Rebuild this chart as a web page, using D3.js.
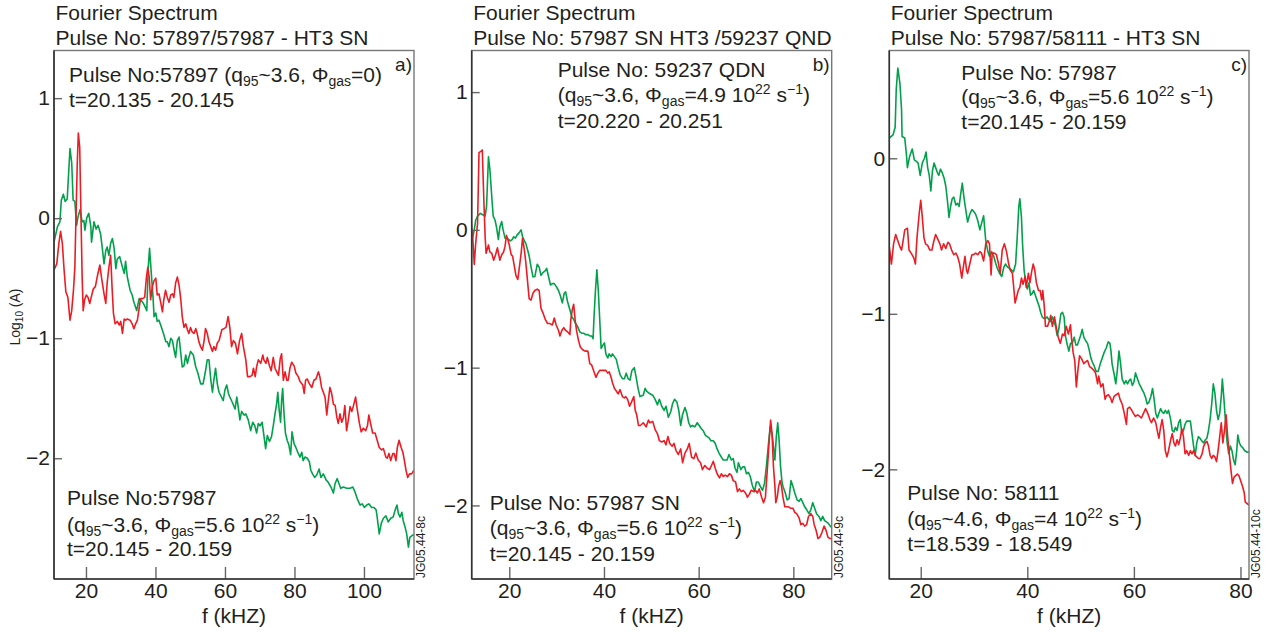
<!DOCTYPE html>
<html>
<head>
<meta charset="utf-8">
<script src="https://cdn.jsdelivr.net/npm/d3@7"></script>
<style>
body { margin: 0; background: #fff; }
svg text { font-family: "Liberation Sans", Arial, Helvetica, sans-serif; fill: #231f20; }
.box { fill: none; stroke: #777; stroke-width: 1.4; }
.axisLine { stroke: #333; stroke-width: 1.6; }
.tick line { stroke: #666; stroke-width: 1.4; }
.spec { fill: none; stroke-width: 1.6; stroke-linejoin: round; }
</style>
</head>
<body>
<script>
(function(){

    //spectra: [f (kHz), log10(A)]
    var greenA = [[10.8,-0.20],[11.8,-0.07],[12.5,-0.03],[12.9,0.15],[13.5,0.20],[14.0,0.14],[14.6,0.16],[15.4,0.58],[15.9,0.46],[16.3,0.15],[16.8,0.14],[17.3,-0.06],[17.7,0.01],[18.3,0.07],[18.9,-0.03],[19.4,-0.02],[19.7,-0.10],[20.2,0.0],[20.8,0.04],[21.4,-0.07],[21.6,-0.20],[22.3,-0.03],[22.9,-0.09],[23.5,-0.06],[24.2,-0.13],[24.7,-0.25],[25.2,-0.38],[25.7,-0.27],[26.1,-0.24],[26.6,-0.31],[27.1,-0.21],[27.6,-0.17],[28.1,-0.25],[28.6,-0.42],[29.0,-0.34],[29.7,-0.32],[30.5,-0.41],[31.0,-0.46],[31.4,-0.36],[31.9,-0.49],[32.7,-0.60],[33.3,-0.64],[33.8,-0.70],[34.6,-0.77],[35.3,-0.67],[35.7,-0.68],[36.3,-0.70],[36.9,-0.73],[37.5,-0.77],[37.9,-0.42],[38.3,-0.25],[38.8,-0.46],[39.3,-0.66],[39.6,-0.82],[40.1,-0.79],[40.5,-0.86],[41.0,-0.85],[41.5,-0.89],[42.3,-0.96],[43.0,-1.03],[43.4,-1.03],[43.9,-1.07],[44.4,-1.00],[44.9,-1.02],[45.3,-1.09],[45.8,-1.16],[46.3,-1.02],[46.8,-0.99],[47.3,-1.13],[47.7,-1.24],[48.2,-1.23],[48.7,-1.14],[49.2,-1.21],[49.6,-1.16],[50.1,-1.11],[50.9,-1.14],[51.6,-1.24],[52.2,-1.29],[53.0,-1.38],[53.7,-1.38],[54.3,-1.29],[54.9,-1.18],[55.4,-1.18],[55.9,-1.34],[56.4,-1.45],[56.8,-1.35],[57.3,-1.25],[57.8,-1.38],[58.3,-1.45],[59.5,-1.52],[60.0,-1.43],[60.5,-1.39],[61.0,-1.46],[61.4,-1.49],[62.2,-1.54],[62.9,-1.59],[63.4,-1.49],[63.8,-1.57],[64.3,-1.68],[64.8,-1.61],[65.5,-1.64],[66.0,-1.63],[66.7,-1.68],[67.4,-1.77],[68.0,-1.70],[68.6,-1.73],[69.1,-1.79],[69.6,-1.71],[70.1,-1.73],[70.7,-1.70],[71.2,-1.81],[71.7,-1.92],[72.2,-1.81],[72.8,-1.86],[73.4,-1.82],[73.9,-1.73],[74.4,-1.63],[74.9,-1.54],[75.2,-1.45],[75.6,-1.60],[76.0,-1.70],[76.3,-1.52],[76.6,-1.42],[77.0,-1.63],[77.4,-1.79],[77.9,-1.85],[78.4,-1.89],[78.9,-1.97],[79.3,-1.78],[79.9,-1.88],[80.4,-1.91],[81.1,-1.96],[81.6,-1.99],[82.1,-1.95],[82.5,-2.02],[83.0,-1.99],[83.7,-2.00],[84.3,-2.03],[84.7,-2.10],[85.2,-2.13],[85.8,-2.16],[86.4,-2.14],[87.1,-2.09],[87.6,-2.16],[88.3,-2.13],[89.1,-2.18],[89.7,-2.20],[90.5,-2.24],[91.2,-2.29],[91.7,-2.21],[92.3,-2.17],[92.8,-2.21],[93.3,-2.25],[94.1,-2.24],[95.0,-2.25],[96.0,-2.25],[96.8,-2.24],[97.4,-2.28],[98.1,-2.34],[98.9,-2.39],[99.5,-2.38],[100.1,-2.41],[100.8,-2.39],[101.4,-2.38],[102.2,-2.41],[102.9,-2.41],[103.5,-2.43],[103.8,-2.49],[104.4,-2.63],[105.0,-2.54],[105.6,-2.50],[106.3,-2.48],[107.0,-2.53],[107.7,-2.50],[108.4,-2.49],[109.0,-2.43],[109.5,-2.39],[109.9,-2.46],[110.4,-2.49],[110.9,-2.45],[111.3,-2.52],[111.8,-2.57],[112.3,-2.63],[112.8,-2.74],[113.2,-2.66],[114.0,-2.64],[114.4,-2.64]];

    var redA = [[10.8,-0.43],[11.6,-0.38],[12.2,-0.21],[12.7,-0.11],[13.2,-0.21],[13.7,-0.43],[14.2,-0.61],[14.8,-0.66],[15.4,-0.85],[15.9,-0.77],[16.4,-0.60],[16.8,-0.41],[17.1,-0.02],[17.5,0.46],[17.8,0.71],[18.2,0.59],[18.5,0.12],[18.9,-0.49],[19.2,-0.77],[19.6,-0.68],[20.1,-0.64],[20.6,-0.66],[21.1,-0.71],[21.5,-0.66],[22.1,-0.59],[22.7,-0.57],[23.3,-0.48],[24.0,-0.39],[24.5,-0.50],[25.2,-0.63],[25.7,-0.71],[26.1,-0.54],[26.6,-0.41],[27.1,-0.31],[27.5,-0.57],[27.9,-0.79],[28.4,-0.88],[29.0,-0.86],[29.6,-0.89],[30.0,-0.86],[30.5,-0.96],[31.0,-0.84],[31.4,-0.85],[31.9,-0.84],[32.7,-0.85],[33.3,-0.88],[33.8,-0.92],[34.3,-0.88],[34.8,-0.85],[35.3,-0.75],[35.7,-0.67],[36.3,-0.67],[36.9,-0.66],[37.4,-0.49],[37.8,-0.41],[38.2,-0.49],[38.6,-0.68],[39.1,-0.57],[39.6,-0.52],[40.1,-0.50],[40.5,-0.64],[41.0,-0.63],[41.5,-0.70],[42.0,-0.78],[42.4,-0.68],[42.9,-0.60],[43.4,-0.66],[43.9,-0.70],[44.4,-0.64],[44.9,-0.63],[45.3,-0.66],[45.8,-0.54],[46.3,-0.49],[46.8,-0.56],[47.3,-0.68],[47.7,-0.82],[48.2,-0.91],[48.7,-0.88],[49.2,-0.93],[49.6,-0.96],[50.1,-0.91],[50.6,-0.95],[51.1,-0.96],[51.6,-0.92],[52.0,-0.96],[52.5,-1.03],[53.0,-1.07],[53.5,-1.10],[54.0,-1.02],[54.4,-0.92],[54.9,-0.96],[55.4,-1.03],[55.9,-1.07],[56.4,-1.11],[56.8,-1.07],[57.3,-1.10],[57.8,-1.04],[58.3,-1.02],[59.1,-0.93],[59.7,-0.92],[60.3,-0.91],[60.9,-0.82],[61.4,-0.91],[61.9,-1.07],[62.4,-1.02],[63.0,-1.04],[63.6,-1.13],[64.2,-1.02],[64.8,-0.96],[65.3,-1.07],[66.0,-1.18],[66.5,-1.32],[67.2,-1.32],[67.8,-1.31],[68.2,-1.25],[68.7,-1.32],[69.1,-1.24],[69.6,-1.18],[70.3,-1.21],[70.9,-1.14],[71.2,-1.18],[71.8,-1.21],[72.2,-1.16],[72.8,-1.23],[73.3,-1.27],[73.9,-1.16],[74.4,-1.25],[74.9,-1.28],[75.4,-1.31],[75.9,-1.17],[76.3,-1.13],[76.8,-1.35],[77.3,-1.28],[77.8,-1.35],[78.2,-1.35],[78.7,-1.25],[79.2,-1.20],[79.9,-1.23],[80.4,-1.29],[81.1,-1.32],[81.6,-1.36],[82.4,-1.39],[82.8,-1.46],[83.2,-1.35],[83.7,-1.34],[84.3,-1.38],[85.0,-1.41],[85.6,-1.35],[86.2,-1.34],[86.9,-1.28],[87.3,-1.32],[87.8,-1.41],[88.3,-1.45],[88.8,-1.49],[89.3,-1.64],[89.7,-1.53],[90.2,-1.41],[90.7,-1.46],[91.2,-1.55],[91.7,-1.56],[92.2,-1.66],[92.6,-1.71],[93.1,-1.63],[93.6,-1.70],[94.1,-1.66],[94.5,-1.56],[95.0,-1.77],[95.5,-1.68],[96.0,-1.57],[96.5,-1.61],[96.9,-1.57],[97.6,-1.49],[98.1,-1.60],[98.7,-1.71],[99.2,-1.78],[99.8,-1.75],[100.5,-1.77],[101.0,-1.73],[101.4,-1.64],[101.9,-1.71],[102.5,-1.79],[103.2,-1.79],[103.8,-1.85],[104.4,-1.91],[105.1,-1.93],[105.6,-1.92],[106.3,-1.99],[106.7,-2.00],[107.2,-1.96],[107.7,-2.02],[108.3,-1.96],[108.7,-1.96],[109.2,-2.02],[109.6,-1.91],[110.1,-1.85],[110.7,-1.91],[111.2,-1.95],[111.7,-2.03],[112.1,-2.10],[112.6,-2.16],[113.1,-2.13],[113.7,-2.13],[114.4,-2.10]];

    var greenB = [[12.0,-0.10],[12.3,-0.05],[12.6,0.0],[12.9,0.07],[13.3,0.10],[13.9,0.12],[14.4,0.11],[14.9,0.10],[15.2,0.17],[15.6,0.53],[15.9,0.44],[16.3,0.24],[16.6,0.10],[17.0,0.07],[17.3,0.02],[17.7,-0.07],[18.0,0.02],[18.4,0.06],[18.7,0.0],[19.1,-0.06],[19.5,-0.06],[19.9,-0.07],[20.2,-0.08],[20.6,-0.07],[20.9,-0.05],[21.3,-0.06],[21.6,-0.04],[22.1,-0.02],[22.5,0.0],[22.8,-0.05],[23.2,-0.08],[23.5,-0.10],[23.9,-0.15],[24.2,-0.19],[24.6,-0.27],[25.0,-0.34],[25.4,-0.34],[25.9,-0.25],[26.3,-0.27],[26.7,-0.33],[27.1,-0.31],[27.5,-0.30],[27.9,-0.28],[28.3,-0.34],[28.7,-0.40],[29.1,-0.39],[29.5,-0.39],[29.9,-0.41],[30.4,-0.44],[30.8,-0.48],[31.2,-0.53],[31.6,-0.46],[31.9,-0.45],[32.3,-0.52],[32.8,-0.58],[33.2,-0.63],[33.6,-0.65],[34.0,-0.68],[34.4,-0.70],[34.9,-0.74],[35.3,-0.75],[35.7,-0.75],[36.1,-0.76],[36.6,-0.76],[37.0,-0.77],[37.4,-0.77],[37.7,-0.79],[37.9,-0.63],[38.2,-0.44],[38.5,-0.29],[38.8,-0.44],[39.1,-0.65],[39.4,-0.86],[39.7,-0.84],[40.1,-0.82],[40.4,-0.90],[40.8,-0.93],[41.1,-0.90],[41.5,-0.92],[41.8,-0.90],[42.2,-0.92],[42.6,-0.94],[43.0,-1.00],[43.4,-1.05],[43.9,-1.08],[44.3,-1.08],[44.7,-1.04],[45.1,-1.08],[45.5,-1.09],[45.9,-1.02],[46.4,-1.00],[46.8,-1.07],[47.2,-1.15],[47.6,-1.21],[48.3,-1.20],[48.7,-1.15],[49.0,-1.17],[49.7,-1.19],[50.3,-1.20],[50.8,-1.23],[51.3,-1.27],[51.7,-1.23],[52.2,-1.28],[52.7,-1.31],[53.1,-1.28],[53.6,-1.36],[54.1,-1.32],[54.5,-1.26],[54.9,-1.23],[55.4,-1.25],[55.8,-1.31],[56.2,-1.42],[56.6,-1.34],[57.1,-1.29],[57.5,-1.33],[57.9,-1.40],[58.3,-1.43],[58.7,-1.42],[59.2,-1.43],[59.7,-1.40],[60.1,-1.42],[60.5,-1.44],[61.0,-1.46],[61.4,-1.49],[61.8,-1.50],[62.2,-1.51],[62.6,-1.53],[63.1,-1.53],[63.5,-1.55],[63.9,-1.59],[64.3,-1.62],[64.8,-1.65],[65.2,-1.67],[65.6,-1.67],[66.0,-1.67],[66.4,-1.63],[66.9,-1.67],[67.3,-1.66],[67.7,-1.73],[68.1,-1.76],[68.4,-1.69],[68.9,-1.74],[69.3,-1.72],[69.7,-1.72],[70.1,-1.77],[70.5,-1.76],[70.9,-1.79],[71.3,-1.85],[71.8,-1.90],[72.2,-1.83],[72.6,-1.83],[73.0,-1.86],[73.5,-1.89],[73.9,-1.84],[74.3,-1.72],[74.7,-1.57],[75.1,-1.43],[75.5,-1.48],[75.9,-1.60],[76.1,-1.67],[76.4,-1.50],[76.7,-1.40],[77.0,-1.53],[77.3,-1.72],[77.6,-1.83],[77.8,-1.86],[78.3,-1.91],[78.7,-1.96],[79.1,-1.95],[79.5,-1.82],[79.9,-1.86],[80.3,-1.91],[80.8,-1.96],[81.2,-1.97],[81.6,-1.95],[82.0,-1.98],[82.4,-2.01],[82.8,-2.03],[83.3,-2.06],[83.7,-2.03],[84.1,-1.98],[84.5,-2.02],[84.9,-2.06],[85.4,-2.08],[85.8,-2.11],[86.2,-2.08],[86.6,-2.11],[87.0,-2.12],[87.4,-2.13],[87.8,-2.15],[88.1,-2.16]];

    var redB = [[12.0,0.04],[12.3,-0.07],[12.6,-0.25],[12.9,-0.10],[13.3,0.05],[13.6,0.56],[14.0,0.57],[14.3,0.58],[14.6,0.24],[14.9,-0.05],[15.1,-0.17],[15.6,-0.11],[15.9,-0.16],[16.3,-0.17],[16.7,-0.22],[17.1,-0.18],[17.5,-0.13],[18.0,-0.22],[18.4,-0.18],[18.8,-0.16],[19.1,-0.12],[19.4,-0.04],[19.7,-0.07],[20.0,-0.11],[20.4,-0.18],[20.7,-0.19],[21.1,-0.27],[21.4,-0.33],[21.8,-0.36],[22.1,-0.28],[22.5,-0.17],[22.8,-0.06],[23.2,-0.15],[23.5,-0.24],[23.9,-0.39],[24.2,-0.50],[24.6,-0.51],[25.0,-0.46],[25.4,-0.44],[25.9,-0.43],[26.3,-0.44],[26.7,-0.57],[27.2,-0.61],[27.6,-0.65],[28.1,-0.68],[28.6,-0.68],[29.1,-0.69],[29.5,-0.64],[29.9,-0.69],[30.4,-0.73],[30.7,-0.77],[31.1,-0.73],[31.5,-0.71],[31.9,-0.73],[32.3,-0.74],[32.8,-0.76],[33.0,-0.65],[33.3,-0.58],[33.6,-0.54],[33.9,-0.65],[34.2,-0.73],[34.6,-0.80],[35.0,-0.85],[35.5,-0.87],[36.0,-0.88],[36.6,-0.88],[37.0,-0.97],[37.4,-0.98],[37.8,-1.02],[38.3,-1.07],[38.7,-1.04],[39.1,-1.02],[39.5,-1.02],[39.9,-1.02],[40.4,-1.02],[40.8,-1.04],[41.1,-1.03],[41.5,-1.07],[41.8,-1.11],[42.2,-1.15],[42.6,-1.17],[43.0,-1.19],[43.4,-1.16],[43.9,-1.21],[44.3,-1.22],[44.6,-1.21],[45.0,-1.23],[45.4,-1.28],[45.8,-1.25],[46.3,-1.21],[46.6,-1.31],[46.9,-1.34],[47.3,-1.42],[47.7,-1.42],[48.3,-1.40],[48.9,-1.43],[49.4,-1.38],[49.7,-1.40],[50.3,-1.39],[50.8,-1.45],[51.3,-1.48],[51.7,-1.53],[52.2,-1.54],[52.7,-1.53],[53.1,-1.56],[53.5,-1.50],[53.9,-1.55],[54.4,-1.57],[54.8,-1.55],[55.2,-1.60],[55.7,-1.63],[56.2,-1.59],[56.6,-1.69],[57.1,-1.62],[57.6,-1.59],[58.0,-1.55],[58.5,-1.65],[59.0,-1.66],[59.4,-1.62],[59.9,-1.67],[60.4,-1.69],[60.8,-1.74],[61.3,-1.71],[61.8,-1.73],[62.3,-1.74],[62.7,-1.71],[63.1,-1.68],[63.5,-1.73],[63.9,-1.77],[64.4,-1.80],[64.8,-1.77],[65.2,-1.79],[65.6,-1.78],[66.1,-1.79],[66.5,-1.77],[66.9,-1.78],[67.3,-1.82],[67.8,-1.83],[68.2,-1.90],[68.6,-1.88],[69.0,-1.90],[69.4,-1.89],[69.9,-1.91],[70.3,-1.94],[70.7,-1.92],[71.1,-1.89],[71.6,-1.90],[72.0,-1.89],[72.4,-1.91],[72.8,-1.88],[73.3,-1.94],[73.7,-1.98],[74.1,-1.94],[74.5,-1.74],[74.9,-1.53],[75.2,-1.38],[75.5,-1.48],[75.8,-1.72],[76.1,-1.86],[76.3,-1.98],[76.6,-1.94],[76.9,-1.86],[77.2,-1.82],[77.5,-1.86],[77.8,-1.94],[78.2,-2.01],[78.6,-2.01],[79.0,-2.01],[79.4,-2.02],[79.9,-2.02],[80.3,-2.05],[80.7,-2.06],[81.2,-2.09],[81.6,-2.14],[82.0,-2.13],[82.4,-2.15],[82.8,-2.14],[83.2,-2.08],[83.7,-2.06],[84.1,-2.08],[84.4,-2.14],[84.8,-2.18],[85.2,-2.24],[85.6,-2.23],[86.0,-2.20],[86.5,-2.15],[86.9,-2.18],[87.3,-2.23],[87.7,-2.24],[88.1,-2.24]];

    var greenC = [[14.1,0.13],[14.8,0.15],[15.2,0.20],[15.4,0.44],[15.7,0.58],[16.1,0.48],[16.4,0.31],[16.5,0.14],[17.0,0.13],[17.3,0.03],[17.5,-0.06],[17.9,0.01],[18.4,0.06],[18.8,-0.01],[19.2,-0.02],[19.5,-0.03],[19.9,-0.11],[20.3,-0.03],[20.7,0.0],[21.0,0.04],[21.3,-0.06],[21.6,-0.11],[21.9,-0.21],[22.2,-0.08],[22.5,-0.03],[22.8,-0.06],[23.1,-0.09],[23.4,-0.11],[23.7,-0.07],[24.0,-0.09],[24.4,-0.13],[24.7,-0.18],[25.0,-0.27],[25.3,-0.38],[25.6,-0.31],[25.9,-0.26],[26.2,-0.25],[26.6,-0.30],[26.9,-0.29],[27.2,-0.31],[27.5,-0.23],[27.8,-0.16],[28.1,-0.25],[28.4,-0.32],[28.8,-0.41],[29.2,-0.36],[29.6,-0.33],[29.9,-0.34],[30.3,-0.36],[30.7,-0.40],[31.1,-0.46],[31.4,-0.42],[31.8,-0.37],[32.2,-0.53],[32.6,-0.60],[32.9,-0.63],[33.3,-0.60],[33.7,-0.63],[34.1,-0.68],[34.4,-0.71],[34.8,-0.74],[35.2,-0.76],[35.6,-0.70],[35.9,-0.68],[36.3,-0.70],[36.7,-0.71],[37.1,-0.72],[37.4,-0.73],[37.8,-0.68],[38.1,-0.51],[38.4,-0.31],[38.6,-0.26],[38.9,-0.38],[39.1,-0.55],[39.4,-0.72],[39.7,-0.80],[40.0,-0.84],[40.3,-0.80],[40.6,-0.88],[40.9,-0.87],[41.2,-0.85],[41.6,-0.89],[41.9,-0.92],[42.2,-0.95],[42.5,-0.99],[42.8,-1.02],[43.1,-1.03],[43.4,-1.03],[43.7,-1.02],[44.1,-1.04],[44.4,-1.05],[44.7,-1.02],[45.0,-1.05],[45.3,-1.08],[45.6,-1.14],[45.9,-1.10],[46.3,-1.00],[46.6,-0.99],[46.9,-1.02],[47.2,-1.15],[47.5,-1.20],[47.8,-1.24],[48.1,-1.19],[48.4,-1.19],[48.8,-1.15],[49.1,-1.20],[49.4,-1.20],[49.7,-1.17],[50.0,-1.14],[50.3,-1.10],[50.6,-1.15],[50.9,-1.17],[51.3,-1.19],[51.6,-1.23],[51.9,-1.28],[52.2,-1.31],[52.6,-1.34],[52.9,-1.37],[53.3,-1.37],[53.7,-1.32],[54.1,-1.28],[54.4,-1.25],[54.8,-1.22],[55.2,-1.18],[55.5,-1.19],[55.7,-1.24],[55.9,-1.32],[56.3,-1.39],[56.6,-1.45],[56.9,-1.36],[57.2,-1.24],[57.5,-1.32],[57.8,-1.42],[58.2,-1.45],[58.5,-1.43],[58.8,-1.45],[59.1,-1.43],[59.4,-1.42],[59.7,-1.46],[60.0,-1.44],[60.3,-1.38],[60.7,-1.42],[61.0,-1.45],[61.3,-1.47],[61.6,-1.49],[61.9,-1.51],[62.2,-1.54],[62.5,-1.58],[62.8,-1.57],[63.2,-1.53],[63.5,-1.48],[63.8,-1.55],[64.1,-1.64],[64.4,-1.67],[64.7,-1.64],[65.0,-1.61],[65.3,-1.63],[65.6,-1.64],[65.9,-1.62],[66.2,-1.64],[66.5,-1.62],[66.9,-1.68],[67.2,-1.75],[67.5,-1.76],[67.8,-1.73],[68.1,-1.75],[68.4,-1.70],[68.7,-1.68],[69.0,-1.77],[69.3,-1.75],[69.6,-1.71],[69.9,-1.69],[70.3,-1.69],[70.6,-1.69],[70.9,-1.77],[71.2,-1.85],[71.5,-1.91],[71.8,-1.83],[72.1,-1.79],[72.4,-1.80],[72.8,-1.82],[73.1,-1.83],[73.4,-1.81],[73.7,-1.80],[74.0,-1.75],[74.3,-1.68],[74.6,-1.58],[74.9,-1.45],[75.2,-1.51],[75.5,-1.62],[75.8,-1.68],[76.1,-1.64],[76.4,-1.53],[76.6,-1.42],[76.9,-1.55],[77.2,-1.70],[77.5,-1.83],[77.8,-1.90],[78.1,-1.85],[78.4,-1.88],[78.7,-1.94],[79.0,-1.97],[79.3,-1.88],[79.5,-1.78],[79.8,-1.83],[80.1,-1.85],[80.4,-1.86],[80.8,-1.88],[81.3,-1.89],[81.6,-1.89]];

    var redC = [[14.1,-0.57],[14.5,-0.68],[14.9,-0.55],[15.3,-0.49],[15.7,-0.53],[16.1,-0.57],[16.4,-0.59],[16.7,-0.53],[17.0,-0.46],[17.5,-0.45],[17.8,-0.59],[18.2,-0.61],[18.7,-0.64],[19.0,-0.68],[19.3,-0.51],[19.7,-0.36],[20.0,-0.27],[20.3,-0.38],[20.6,-0.51],[20.9,-0.55],[21.3,-0.56],[21.7,-0.59],[22.1,-0.59],[22.4,-0.54],[22.8,-0.49],[23.2,-0.52],[23.6,-0.55],[23.9,-0.59],[24.3,-0.55],[24.7,-0.58],[25.1,-0.54],[25.4,-0.55],[25.8,-0.59],[26.2,-0.62],[26.6,-0.61],[26.9,-0.63],[27.3,-0.68],[27.7,-0.77],[27.9,-0.72],[28.3,-0.63],[28.6,-0.72],[28.8,-0.74],[29.2,-0.68],[29.6,-0.62],[29.9,-0.62],[30.3,-0.61],[30.7,-0.62],[31.1,-0.60],[31.4,-0.61],[31.8,-0.66],[32.2,-0.55],[32.6,-0.53],[32.9,-0.55],[33.2,-0.75],[33.4,-0.61],[33.8,-0.61],[34.2,-0.62],[34.6,-0.68],[34.9,-0.74],[35.3,-0.59],[35.7,-0.55],[36.1,-0.60],[36.5,-0.68],[36.8,-0.72],[37.2,-0.74],[37.5,-0.85],[37.7,-0.93],[38.0,-0.89],[38.3,-0.85],[38.6,-0.83],[38.9,-0.77],[39.2,-0.81],[39.6,-0.76],[39.8,-0.83],[40.2,-0.74],[40.5,-0.80],[40.8,-0.73],[41.1,-0.68],[41.4,-0.72],[41.7,-0.80],[42.1,-0.85],[42.4,-0.85],[42.7,-0.91],[42.9,-0.85],[43.2,-0.96],[43.4,-1.08],[43.8,-1.08],[44.2,-1.04],[44.4,-1.01],[44.7,-1.08],[45.1,-1.02],[45.4,-1.08],[45.8,-1.15],[46.2,-1.19],[46.6,-1.13],[46.9,-1.14],[47.3,-1.08],[47.7,-1.13],[48.1,-1.07],[48.3,-1.16],[48.6,-1.25],[48.9,-1.30],[49.2,-1.47],[49.5,-1.36],[49.8,-1.27],[50.2,-1.29],[50.6,-1.32],[50.9,-1.31],[51.3,-1.30],[51.7,-1.34],[52.1,-1.35],[52.4,-1.36],[52.8,-1.38],[53.2,-1.45],[53.4,-1.40],[53.8,-1.47],[54.2,-1.45],[54.6,-1.55],[54.8,-1.53],[55.2,-1.52],[55.6,-1.54],[55.9,-1.57],[56.3,-1.53],[56.7,-1.52],[57.1,-1.51],[57.4,-1.55],[57.8,-1.58],[58.2,-1.64],[58.6,-1.71],[58.8,-1.61],[59.2,-1.60],[59.6,-1.62],[59.9,-1.64],[60.3,-1.66],[60.7,-1.65],[61.1,-1.66],[61.4,-1.67],[61.8,-1.64],[62.2,-1.61],[62.6,-1.64],[63.0,-1.68],[63.3,-1.70],[63.7,-1.67],[64.1,-1.70],[64.5,-1.77],[64.7,-1.80],[65.0,-1.73],[65.3,-1.68],[65.6,-1.75],[65.9,-1.88],[66.2,-1.92],[66.5,-1.88],[66.9,-1.81],[67.2,-1.77],[67.5,-1.83],[67.8,-1.85],[68.1,-1.81],[68.4,-1.84],[68.7,-1.80],[69.0,-1.74],[69.3,-1.79],[69.6,-1.90],[69.9,-1.88],[70.3,-1.91],[70.6,-1.88],[70.9,-1.90],[71.2,-1.88],[71.5,-1.91],[71.8,-1.92],[72.1,-1.93],[72.4,-1.93],[72.8,-1.90],[73.1,-1.85],[73.4,-1.83],[73.7,-1.82],[74.0,-1.85],[74.3,-1.91],[74.6,-1.93],[74.9,-1.91],[75.2,-1.92],[75.5,-1.95],[75.8,-1.88],[76.1,-1.79],[76.4,-1.70],[76.7,-1.83],[77.0,-1.75],[77.3,-1.65],[77.6,-1.79],[77.9,-1.90],[78.2,-2.00],[78.5,-2.09],[78.8,-2.05],[79.1,-2.04],[79.4,-2.03],[79.7,-2.04],[80.0,-2.07],[80.4,-2.11],[80.7,-2.15],[80.9,-2.21],[81.6,-2.23]];

    //tick values
    var xTicksA = [20, 40, 60, 80, 100],
        xTicksBC = [20, 40, 60, 80],
        yTicksAB = [-2, -1, 0, 1],
        yTicksC = [-2, -1, 0];

    //axis ranges
    var xDomA = [10.8, 114.4], yDomA = [-3.006, 1.397],
        xDomB = [12.06, 88.1], yDomB = [-2.534, 1.302],
        xDomC = [14.1, 81.6], yDomC = [-2.705, 0.693];

    //texts
    var titleA = ["Fourier Spectrum", "Pulse No: 57897/57987 - HT3 SN"],
        titleB = ["Fourier Spectrum", "Pulse No: 57987 SN HT3 /59237 QND"],
        titleC = ["Fourier Spectrum", "Pulse No: 57987/58111 - HT3 SN"];

    var topNoteA = [[["Pulse No:57897 (q"], ["95", "sub"], ["~3.6, \u03A6"], ["gas", "sub"], ["=0)"]],
                    [["t=20.135 - 20.145"]]];
    var lowNoteA = [[["Pulse No:57987"]],
                    [["(q"], ["95", "sub"], ["~3.6, \u03A6"], ["gas", "sub"], ["=5.6 10"], ["22", "sup"], [" s"], ["\u22121", "sup"], [")"]],
                    [["t=20.145 - 20.159"]]];
    var topNoteB = [[["Pulse No: 59237 QDN"]],
                    [["(q"], ["95", "sub"], ["~3.6, \u03A6"], ["gas", "sub"], ["=4.9 10"], ["22", "sup"], [" s"], ["\u22121", "sup"], [")"]],
                    [["t=20.220 - 20.251"]]];
    var lowNoteB = [[["Pulse No: 57987 SN"]],
                    [["(q"], ["95", "sub"], ["~3.6, \u03A6"], ["gas", "sub"], ["=5.6 10"], ["22", "sup"], [" s"], ["\u22121", "sup"], [")"]],
                    [["t=20.145 - 20.159"]]];
    var topNoteC = [[["Pulse No: 57987"]],
                    [["(q"], ["95", "sub"], ["~3.6, \u03A6"], ["gas", "sub"], ["=5.6 10"], ["22", "sup"], [" s"], ["\u22121", "sup"], [")"]],
                    [["t=20.145 - 20.159"]]];
    var lowNoteC = [[["Pulse No: 58111"]],
                    [["(q"], ["95", "sub"], ["~4.6, \u03A6"], ["gas", "sub"], ["=4 10"], ["22", "sup"], [" s"], ["\u22121", "sup"], [")"]],
                    [["t=18.539 - 18.549"]]];

    var redColor = "#ed1c24",
        greenColor = "#00a14b";

    window.onload = drawFigure();

    function drawFigure(){
        var svg = d3.select("body")
            .append("svg")
            .attr("width", 1275)
            .attr("height", 639);

        //panel frames: left, right edges of each plot box
        var panels = [
            {left: 54, right: 414, xDom: xDomA, yDom: yDomA, xTicks: xTicksA, yTicks: yTicksAB,
             red: redA, green: greenA, title: titleA, tag: "a)", code: "JG05.44-8c",
             top: topNoteA, topX: 15, topY: [82, 107],
             low: lowNoteA, lowX: 13, lowY: [505, 532, 556]},
            {left: 471.7, right: 831.7, xDom: xDomB, yDom: yDomB, xTicks: xTicksBC, yTicks: yTicksAB,
             red: redB, green: greenB, title: titleB, tag: "b)", code: "JG05.44-9c",
             top: topNoteB, topX: 86, topY: [77, 102, 128],
             low: lowNoteB, lowX: 18, lowY: [510, 535, 561]},
            {left: 889.3, right: 1249, xDom: xDomC, yDom: yDomC, xTicks: xTicksBC, yTicks: yTicksC,
             red: redC, green: greenC, title: titleC, tag: "c)", code: "JG05.44-10c",
             top: topNoteC, topX: 72, topY: [80, 104, 129],
             low: lowNoteC, lowX: 18, lowY: [500, 526, 551]}
        ];

        panels.forEach(function(p, i){
            setPanel(svg, p, i);
        });

        //y axis label, only on the first panel
        var ylab = svg.append("text")
            .attr("transform", "translate(20,317) rotate(-90)")
            .attr("text-anchor", "middle")
            .style("font-size", "14px");
        ylab.append("tspan").text("Log");
        ylab.append("tspan").attr("dy", 3).style("font-size", "10px").text("10");
        ylab.append("tspan").attr("dy", -3).text(" (A)");
    }

    function setPanel(svg, p, idx){
        var top = 50.5,
            bottom = 579,
            width = p.right - p.left;

        var x = d3.scaleLinear().domain(p.xDom).range([p.left, p.right]);
        var y = d3.scaleLinear().domain(p.yDom).range([bottom, top]);

        //clip to plot box
        svg.append("clipPath")
            .attr("id", "clip" + idx)
            .append("rect")
            .attr("x", p.left)
            .attr("y", top)
            .attr("width", width)
            .attr("height", bottom - top);

        //spectra
        var line = d3.line()
            .x(function(d){ return x(d[0]); })
            .y(function(d){ return y(d[1]); });

        var g = svg.append("g").attr("clip-path", "url(#clip" + idx + ")");
        g.append("path")
            .datum(p.green)
            .attr("class", "spec")
            .attr("stroke", greenColor)
            .attr("d", line);
        g.append("path")
            .datum(p.red)
            .attr("class", "spec")
            .attr("stroke", redColor)
            .attr("d", line);

        //frame
        svg.append("rect")
            .attr("class", "box")
            .attr("x", p.left)
            .attr("y", top)
            .attr("width", width)
            .attr("height", bottom - top);

        //axes with inward ticks
        var xAxis = d3.axisBottom(x)
            .tickValues(p.xTicks)
            .tickSize(-12)
            .tickPadding(4)
            .tickFormat(d3.format("d"));
        var gx = svg.append("g")
            .attr("transform", "translate(0," + bottom + ")")
            .call(xAxis);
        gx.select(".domain").remove();
        gx.selectAll("text").style("font-size", "21px").attr("fill", "#231f20");

        var yAxis = d3.axisLeft(y)
            .tickValues(p.yTicks)
            .tickSize(-8)
            .tickPadding(4)
            .tickFormat(d3.format("d"));
        var gy = svg.append("g")
            .attr("transform", "translate(" + p.left + ",0)")
            .call(yAxis);
        gy.select(".domain").remove();
        gy.selectAll("text").style("font-size", "21px").attr("fill", "#231f20");

        svg.append("line").attr("class", "axisLine")
            .attr("x1", p.left).attr("x2", p.left).attr("y1", top).attr("y2", bottom);
        svg.append("line").attr("class", "axisLine")
            .attr("x1", p.left).attr("x2", p.right).attr("y1", bottom).attr("y2", bottom);

        //title
        p.title.forEach(function(t, k){
            svg.append("text")
                .attr("x", p.left + 1.5)
                .attr("y", 20 + k * 24.5)
                .style("font-size", "21px")
                .text(t);
        });

        //panel tag
        svg.append("text")
            .attr("x", p.right - 2)
            .attr("y", 71)
            .attr("text-anchor", "end")
            .style("font-size", "19px")
            .text(p.tag);

        //annotations
        p.top.forEach(function(parts, k){
            richLine(svg, p.left + p.topX, p.topY[k], parts);
        });
        p.low.forEach(function(parts, k){
            richLine(svg, p.left + p.lowX, p.lowY[k], parts);
        });

        //x label
        svg.append("text")
            .attr("x", (p.left + p.right) / 2)
            .attr("y", 623)
            .attr("text-anchor", "middle")
            .style("font-size", "21px")
            .text("f (kHZ)");

        //figure code on the right edge
        svg.append("text")
            .attr("transform", "translate(" + (p.right + 11) + ",578) rotate(-90)")
            .style("font-size", "12px")
            .text(p.code);
    }

    //one line of text with sub and superscripts
    function richLine(svg, x, y, parts){
        var t = svg.append("text")
            .attr("x", x)
            .attr("y", y)
            .style("font-size", "21px");
        var shift = 0;
        parts.forEach(function(part){
            var target = part[1] == "sub" ? 4 : (part[1] == "sup" ? -8 : 0);
            t.append("tspan")
                .attr("dy", target - shift)
                .style("font-size", part[1] ? "14px" : "21px")
                .text(part[0]);
            shift = target;
        });
    }

})();
</script>
</body>
</html>
